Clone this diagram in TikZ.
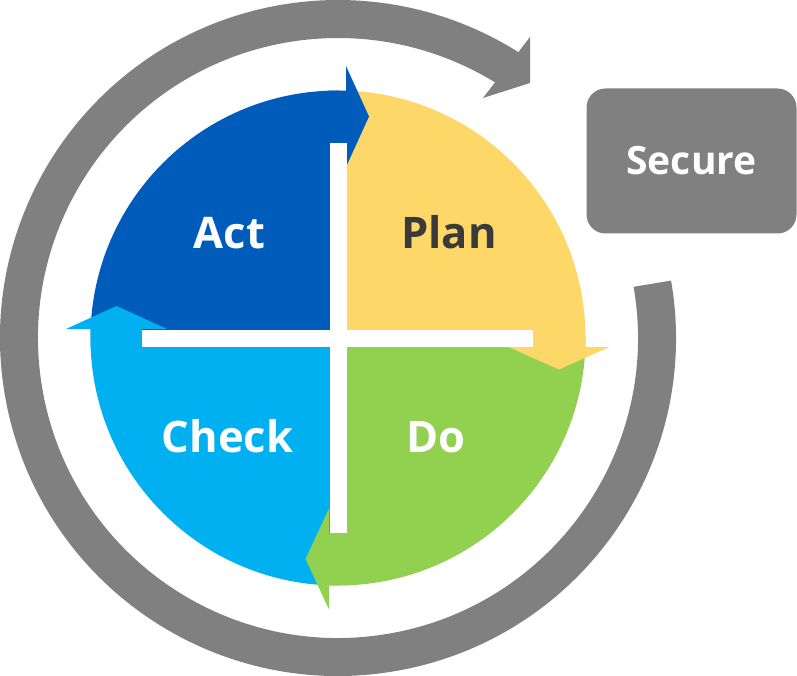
\documentclass[tikz,border=0pt]{standalone}
\usepackage{fontspec}
\setmainfont{Open Sans}
\usetikzlibrary{calc}
\definecolor{cblue}{RGB}{0,92,186}
\definecolor{cyellow}{RGB}{253,216,104}
\definecolor{cgreen}{RGB}{146,208,80}
\definecolor{ccyan}{RGB}{0,176,240}
\definecolor{cgray}{RGB}{128,128,128}
\definecolor{cdark}{RGB}{58,58,58}
\tikzset{
  lbl/.style={anchor=base, inner sep=0pt, font=\bfseries\fontsize{43.5}{50}\selectfont},
}
\begin{document}
\begin{tikzpicture}[x=1pt,y=-1pt]
\useasboundingbox (0,0) rectangle (797,676);
\coordinate (c) at (338,338);
% quadrants
\fill[cblue]   (c) -- ++(180:247.5) arc[start angle=180,end angle=270,radius=247.5] -- cycle;
\fill[cyellow] (c) -- ++(270:247.5) arc[start angle=270,end angle=360,radius=247.5] -- cycle;
\fill[cgreen]  (c) -- ++(0:247.5)   arc[start angle=0,end angle=90,radius=247.5] -- cycle;
\fill[ccyan]   (c) -- ++(90:247.5)  arc[start angle=90,end angle=180,radius=247.5] -- cycle;
% arrow shafts
\begin{scope}
\clip (c) circle[radius=247.5];
\fill[cblue]   (329,80) rectangle (346.5,143);
\fill[cyellow] (533,329) rectangle (600,347);
\fill[cgreen]  (329,533) rectangle (347,600);
\fill[ccyan]   (76,329) rectangle (142,347);
\end{scope}
% arrow heads
\fill[cblue]   (346,66) -- (369,116.5) -- (346,167) -- cycle;
\fill[cyellow] (508.5,347) -- (559,369.5) -- (609.5,347) -- cycle;
\fill[cgreen]  (329,508.5) -- (305.5,559) -- (329,609.5) -- cycle;
\fill[ccyan]   (66,329) -- (116.5,306) -- (167,329) -- cycle;
% white cross
\fill[white] (329.5,143) rectangle (346.5,533);
\fill[white] (142,329.5) rectangle (533,346.5);
% outer ring
\draw[cgray, line width=38pt] ($(c)+(-9.8:319)$) arc[start angle=-9.8,end angle=303,radius=319];
\fill[cgray] (530,37) -- (530,83) -- (483,98) -- cycle;
% labels
\node[lbl, text=white] (act)   at (229.5,248) {Act};
\node[lbl, text=cdark] (plan)  at (449,248)   {Plan};
\node[lbl, text=white] (check) at (227.5,452.5) {Check};
\node[lbl, text=white] (do)    at (436,452.5) {Do};
% secure box
\node[fill=cgray, rounded corners=19pt, minimum width=210pt, minimum height=145pt, inner sep=0pt,
      text=white, font=\bfseries\fontsize{39}{45}\selectfont] (secure) at (691.5,161) {Secure};
\end{tikzpicture}
\end{document}
